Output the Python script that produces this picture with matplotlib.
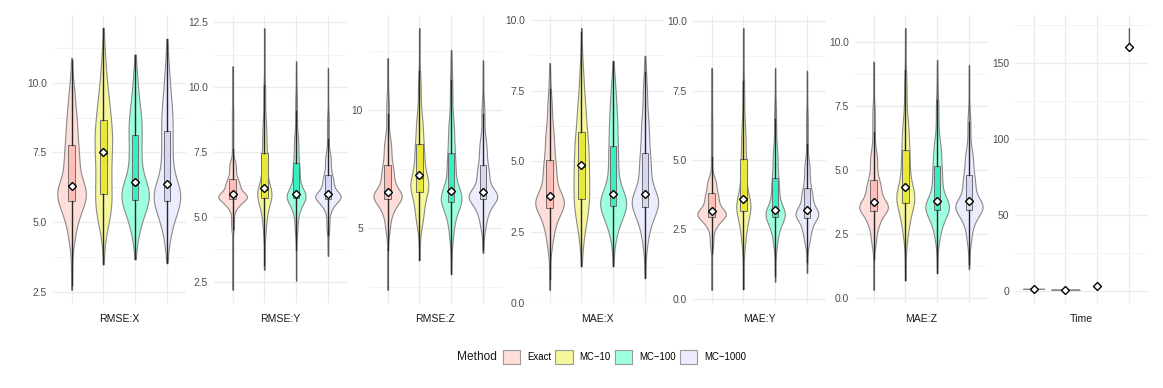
import math
import numpy as np
import matplotlib
matplotlib.use("Agg")
import matplotlib.pyplot as plt
from matplotlib.patches import Patch

plt.rcParams['font.family'] = ['Liberation Sans', 'DejaVu Sans']

methods = ["Exact", "MC\u221210", "MC\u2212100", "MC\u22121000"]
# quantile levels used for every row below
levels = [0, 0.02, 0.10, 0.25, 0.50, 0.75, 0.90, 0.98, 1.0]

# one row per method (Exact, MC-10, MC-100, MC-1000), values at `levels`
rmse_x = [[2.58, 4.2, 5.1, 5.76, 6.35, 7.76, 8.9, 9.9, 10.88],
          [3.5, 4.7, 5.3, 6.02, 7.45, 8.65, 9.7, 10.9, 11.95],
          [3.68, 4.5, 5.2, 5.79, 6.35, 8.14, 9.1, 10.2, 11.0],
          [3.56, 4.4, 5.15, 5.76, 6.3, 8.26, 9.4, 10.6, 11.56]]
rmse_x_mean = [6.30, 7.52, 6.45, 6.36]

rmse_y = [[2.19, 4.4, 5.35, 5.68, 5.88, 6.45, 7.2, 9.3, 10.81],
          [2.96, 4.3, 5.1, 5.75, 6.05, 7.48, 8.7, 10.3, 12.28],
          [2.54, 4.3, 5.2, 5.73, 5.9, 7.07, 8.2, 9.8, 11.0],
          [3.5, 4.4, 5.3, 5.7, 5.88, 6.62, 7.5, 9.0, 10.75]]
rmse_y_mean = [5.9, 6.1, 5.9, 5.9]

rmse_z = [[2.37, 4.7, 5.6, 6.2, 6.5, 7.64, 8.8, 10.6, 12.19],
          [3.64, 5.0, 5.6, 6.5, 7.1, 8.56, 9.8, 11.5, 13.46],
          [3.05, 4.4, 5.4, 6.1, 6.5, 8.17, 9.6, 11.5, 12.54],
          [3.93, 4.9, 5.6, 6.2, 6.48, 7.64, 8.8, 10.4, 12.09]]
rmse_z_mean = [6.5, 7.22, 6.54, 6.5]

mae_x = [[0.45, 1.9, 2.7, 3.36, 3.75, 5.04, 6.2, 7.4, 8.48],
         [1.29, 2.2, 3.0, 3.67, 4.8, 6.03, 7.2, 8.4, 9.72],
         [1.29, 2.3, 2.9, 3.41, 3.8, 5.56, 6.8, 7.8, 8.54],
         [0.88, 2.0, 2.8, 3.39, 3.82, 5.30, 6.6, 7.9, 8.74]]
mae_x_mean = [3.79, 4.89, 3.83, 3.86]

mae_y = [[0.32, 1.8, 2.6, 2.95, 3.17, 3.81, 4.4, 6.7, 8.32],
         [0.35, 1.8, 2.5, 3.17, 3.55, 5.04, 6.3, 8.0, 9.76],
         [0.62, 1.8, 2.45, 2.95, 3.2, 4.37, 5.5, 7.0, 8.32],
         [0.93, 1.9, 2.4, 2.92, 3.18, 3.99, 5.0, 6.8, 8.23]]
mae_y_mean = [3.18, 3.61, 3.21, 3.2]

mae_z = [[0.32, 2.0, 2.8, 3.39, 3.72, 4.63, 5.8, 7.6, 9.25],
         [0.69, 2.2, 3.0, 3.71, 4.25, 5.8, 7.0, 8.8, 10.56],
         [1.0, 2.2, 2.9, 3.43, 3.78, 5.15, 6.2, 7.9, 9.32],
         [1.13, 2.1, 2.9, 3.43, 3.75, 4.82, 5.8, 7.3, 9.12]]
mae_z_mean = [3.74, 4.33, 3.81, 3.78]

time_s = [[0.95, 1.0, 1.04, 1.08, 1.12, 1.16, 1.2, 1.25, 1.3],
          [0.4, 0.45, 0.5, 0.54, 0.57, 0.6, 0.63, 0.68, 0.75],
          [2.2, 2.5, 2.8, 3.0, 3.25, 3.5, 3.7, 4.0, 4.5],
          [158.6, 158.9, 159.3, 159.7, 160.2, 161.0, 162.5, 167.0, 173.0]]
time_mean = [1.13, 0.57, 3.27, 160.4]

panel_names = ["RMSE:X", "RMSE:Y", "RMSE:Z", "MAE:X", "MAE:Y", "MAE:Z", "Time"]
panel_ticks = [[2.5, 5, 7.5, 10], [2.5, 5, 7.5, 10, 12.5], [5, 10],
               [0, 2.5, 5, 7.5, 10], [0, 2.5, 5, 7.5, 10], [0, 2.5, 5, 7.5, 10],
               [0, 50, 100, 150]]
panel_fmt = ["{:.1f}", "{:.1f}", "{:.0f}", "{:.1f}", "{:.1f}", "{:.1f}", "{:.0f}"]

violin_fill = ["#FFDDD8", "#F6F69A", "#9CFFE0", "#ECECFF"]
box_fill = ["#FFBDB5", "#E8E838", "#36F0C2", "#D6D6F6"]

panel_data = [rmse_x, rmse_y, rmse_z, mae_x, mae_y, mae_z, time_s]
panel_means = [rmse_x_mean, rmse_y_mean, rmse_z_mean, mae_x_mean,
               mae_y_mean, mae_z_mean, time_mean]

erf = np.vectorize(math.erf)


def Phi(z):
    return 0.5 * (1 + erf(z / math.sqrt(2)))


def quantile_density(q, grid, h):
    # mass between consecutive quantiles spread evenly, then gaussian smoothed
    d = np.zeros_like(grid)
    for i in range(len(q) - 1):
        a, b = q[i], q[i + 1]
        m = levels[i + 1] - levels[i]
        if b - a < 1e-9:
            d += m * np.exp(-0.5 * ((grid - a) / h) ** 2) / (h * math.sqrt(2 * math.pi))
        else:
            d += m * (Phi((grid - a) / h) - Phi((grid - b) / h)) / (b - a)
    return d


W, H = 1163, 388
lefts = [52.5, 213.5, 368.5, 530.5, 692.5, 854.5, 1014.5]
pw = 133.5
top_px, bot_px = 15, 303

fig = plt.figure(figsize=(W / 100, H / 100), dpi=100)
pos = np.arange(1, 5)

for k in range(7):
    ax = fig.add_axes([lefts[k] / W, (H - bot_px) / H, pw / W, (bot_px - top_px) / H])
    data = panel_data[k]
    means = panel_means[k]

    lo = min(r[0] for r in data)
    hi = max(r[-1] for r in data)
    rng = hi - lo
    ylim = (lo - 0.05 * rng, hi + 0.05 * rng)

    # densities, scaled like ggplot scale = "area"
    stats = []
    peaks = []
    for r in data:
        iqr = r[5] - r[3]
        h = max(0.2 * iqr, 1e-3)
        grid = np.linspace(r[0], r[-1], 300)
        d = quantile_density(r, grid, h)
        stats.append(dict(coords=grid, vals=d, mean=np.mean(r), median=r[4],
                          min=r[0], max=r[-1]))
        peaks.append(d.max())
    pmax = max(peaks)
    widths = [max(0.9 * p / pmax, 0.004) for p in peaks]

    vp = ax.violin(stats, positions=pos, widths=widths, showmeans=False,
                   showextrema=False, showmedians=False)
    for body, c in zip(vp['bodies'], violin_fill):
        body.set_facecolor(c)
        body.set_edgecolor("#8A8A8A")
        body.set_linewidth(0.8)
        body.set_alpha(1)
        body.set_zorder(2)

    # outlier stretches drawn as a faint line
    bstats = []
    for i, r in enumerate(data):
        q1, med, q3 = r[3], r[4], r[5]
        iqr = q3 - q1
        wlo = max(r[0], q1 - 1.5 * iqr)
        whi = min(r[-1], q3 + 1.5 * iqr)
        bstats.append(dict(med=med, q1=q1, q3=q3, whislo=wlo, whishi=whi, fliers=[]))
        ax.vlines(pos[i], r[0], wlo, color="#3A3A3A", lw=0.9, alpha=0.6, zorder=3)
        ax.vlines(pos[i], whi, r[-1], color="#3A3A3A", lw=0.9, alpha=0.6, zorder=3)

    bp = ax.bxp(bstats, positions=pos, widths=0.2, patch_artist=True,
                showfliers=False, showcaps=False,
                boxprops=dict(edgecolor="#6E6E6E", linewidth=0.7),
                whiskerprops=dict(color="#262626", linewidth=1.0),
                medianprops=dict(color="#555555", linewidth=0.8),
                manage_ticks=False, zorder=3)
    for patch, c in zip(bp['boxes'], box_fill):
        patch.set_facecolor(c)

    ax.plot(pos, means, ls="none", marker="D", ms=3.8, mfc="white", mec="black",
            mew=1.0, zorder=5)

    ax.set_xlim(0.4, 4.6)
    ax.set_ylim(*ylim)
    ticks = panel_ticks[k]
    step = ticks[1] - ticks[0]
    minor = np.arange(ticks[0] - step / 2, ylim[1], step)
    minor = [m for m in minor if ylim[0] <= m <= ylim[1]]
    ax.set_yticks(ticks)
    ax.set_yticklabels([panel_fmt[k].format(t) for t in ticks])
    ax.set_yticks(minor, minor=True)
    ax.set_xticks(pos)
    ax.set_xticklabels([])
    ax.tick_params(length=0, which="both", labelsize=7.4, labelcolor="#4D4D4D", pad=4)
    ax.grid(True, which="major", color="#EBEBEB", lw=0.9)
    ax.grid(True, which="minor", axis="y", color="#F3F3F3", lw=0.6)
    ax.set_axisbelow(True)
    for s in ax.spines.values():
        s.set_visible(False)

    ax.annotate(panel_names[k], xy=(0.5, 0), xycoords="axes fraction",
                xytext=(0, -11.6), textcoords="offset points", ha="center",
                va="center", fontsize=7.6, color="#1A1A1A")

handles = [Patch(facecolor=c, edgecolor="#9A9A9A", linewidth=0.8) for c in violin_fill]
fig.legend(handles, methods, ncol=4, loc="center left",
           bbox_to_anchor=(503 / W, (H - 357) / H), frameon=False, fontsize=6.9,
           handlelength=1.8, handleheight=1.8, handletextpad=0.7,
           columnspacing=0.45, borderaxespad=0, borderpad=0)
fig.text(457 / W, (H - 357) / H, "Method", ha="left", va="center", fontsize=8.6,
         color="#1A1A1A")

fig.savefig("out.png", dpi=100)
